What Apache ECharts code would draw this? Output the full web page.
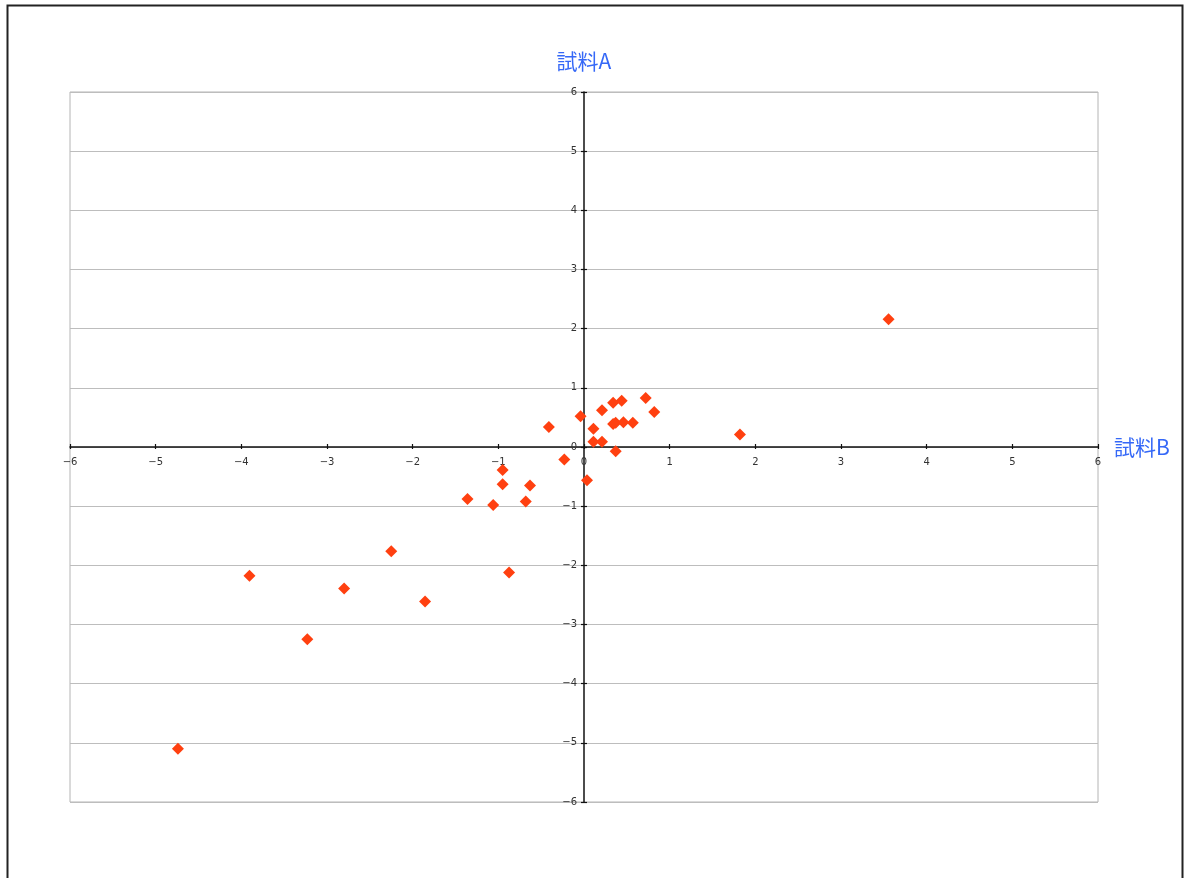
<!DOCTYPE html>
<html>
<head>
<meta charset="utf-8">
<script src="https://cdn.jsdelivr.net/npm/echarts@6/dist/echarts.min.js"></script>
<style>
  html, body { margin: 0; padding: 0; background: #fff; }
  #chart { width: 1191px; height: 878px; }
</style>
</head>
<body>
<div id="chart"></div>
<script>
// 試料B (x) and 試料A (y) measurements
const sampleB = [-0.41, -0.04, -0.23, 0.035, 0.11, 0.11, 0.21, 0.21, 0.34, 0.44, 0.34, 0.37, 0.46, 0.57, 0.37, 0.72, 0.82,
                 -0.95, -0.95, -0.63, -0.68, -1.06, -1.36, -2.25, -0.875, -1.855, 3.555, 1.82, -3.905, -2.80, -3.23, -4.74];
const sampleA = [0.34, 0.52, -0.21, -0.56, 0.31, 0.09, 0.09, 0.62, 0.75, 0.78, 0.39, 0.41, 0.42, 0.41, -0.07, 0.83, 0.59,
                 -0.39, -0.63, -0.65, -0.92, -0.98, -0.88, -1.76, -2.12, -2.61, 2.16, 0.21, -2.175, -2.39, -3.25, -5.10];

const axisMin = -6, axisMax = 6, axisStep = 1;
const xName = '試料B', yName = '試料A';

const points = sampleB.map((b, i) => [b, sampleA[i]]);
const fmt = v => (v < 0 ? '\u2212' + Math.abs(v) : String(v));

// plot box
const gridBox = { left: 70, right: 93, top: 92, bottom: 76 };
const W = 1191, H = 878;
const plotW = W - gridBox.left - gridBox.right;
const plotH = H - gridBox.top - gridBox.bottom;
// the axes cross at the origin, which sits in the middle of the symmetric range
const xAxisShift = -plotH * (0 - axisMin) / (axisMax - axisMin);
const yAxisShift = -plotW * (0 - axisMin) / (axisMax - axisMin);

const tickFont = { fontFamily: 'DejaVu Sans', fontSize: 10, color: '#333' };
const nameFont = { fontFamily: 'Noto Sans CJK JP', fontSize: 21, color: '#3568f7' };
const tickStyle = { color: '#111', width: 1.2 };

const chart = echarts.init(document.getElementById('chart'), null, { renderer: 'canvas' });
chart.setOption({
  backgroundColor: '#fff',
  animation: false,
  graphic: [{
    type: 'rect',
    left: 5, top: 3,
    shape: { width: 1175, height: 900 },
    style: { fill: 'none', stroke: '#222', lineWidth: 2 },
    silent: true
  }],
  grid: Object.assign({
    show: true, borderColor: '#b4b4b4', borderWidth: 1, backgroundColor: 'transparent'
  }, gridBox),
  xAxis: [{
    type: 'value', min: axisMin, max: axisMax, interval: axisStep,
    position: 'bottom', offset: xAxisShift,
    name: xName, nameLocation: 'end', nameGap: 16,
    nameTextStyle: Object.assign({ verticalAlign: 'middle' }, nameFont),
    axisLine: { onZero: false, lineStyle: { color: '#111', width: 1.5 } },
    axisTick: { show: true, length: 2, lineStyle: tickStyle },
    axisLabel: Object.assign({ margin: 10, formatter: fmt }, tickFont),
    splitLine: { show: false }
  }, {
    type: 'value', min: axisMin, max: axisMax, interval: axisStep,
    position: 'bottom', offset: xAxisShift,
    axisLine: { show: false, onZero: false },
    axisTick: { show: true, inside: true, length: 3, lineStyle: tickStyle },
    axisLabel: { show: false },
    splitLine: { show: false }
  }],
  yAxis: [{
    type: 'value', min: axisMin, max: axisMax, interval: axisStep,
    position: 'left', offset: yAxisShift,
    name: yName, nameLocation: 'end', nameGap: 20,
    nameTextStyle: Object.assign({ align: 'center' }, nameFont),
    axisLine: { onZero: false, lineStyle: { color: '#111', width: 1.5 } },
    axisTick: { show: true, length: 3, lineStyle: tickStyle },
    axisLabel: Object.assign({ margin: 7, formatter: fmt }, tickFont),
    splitLine: { show: true, lineStyle: { color: '#bdbdbd', width: 1 } }
  }, {
    type: 'value', min: axisMin, max: axisMax, interval: axisStep,
    position: 'left', offset: yAxisShift,
    axisLine: { show: false, onZero: false },
    axisTick: { show: true, inside: true, length: 3, lineStyle: tickStyle },
    axisLabel: { show: false },
    splitLine: { show: false }
  }],
  series: [{
    type: 'scatter',
    xAxisIndex: 0, yAxisIndex: 0,
    symbol: 'diamond',
    symbolSize: 12,
    itemStyle: { color: '#ff4010', opacity: 1 },
    data: points
  }]
});
</script>
</body>
</html>
